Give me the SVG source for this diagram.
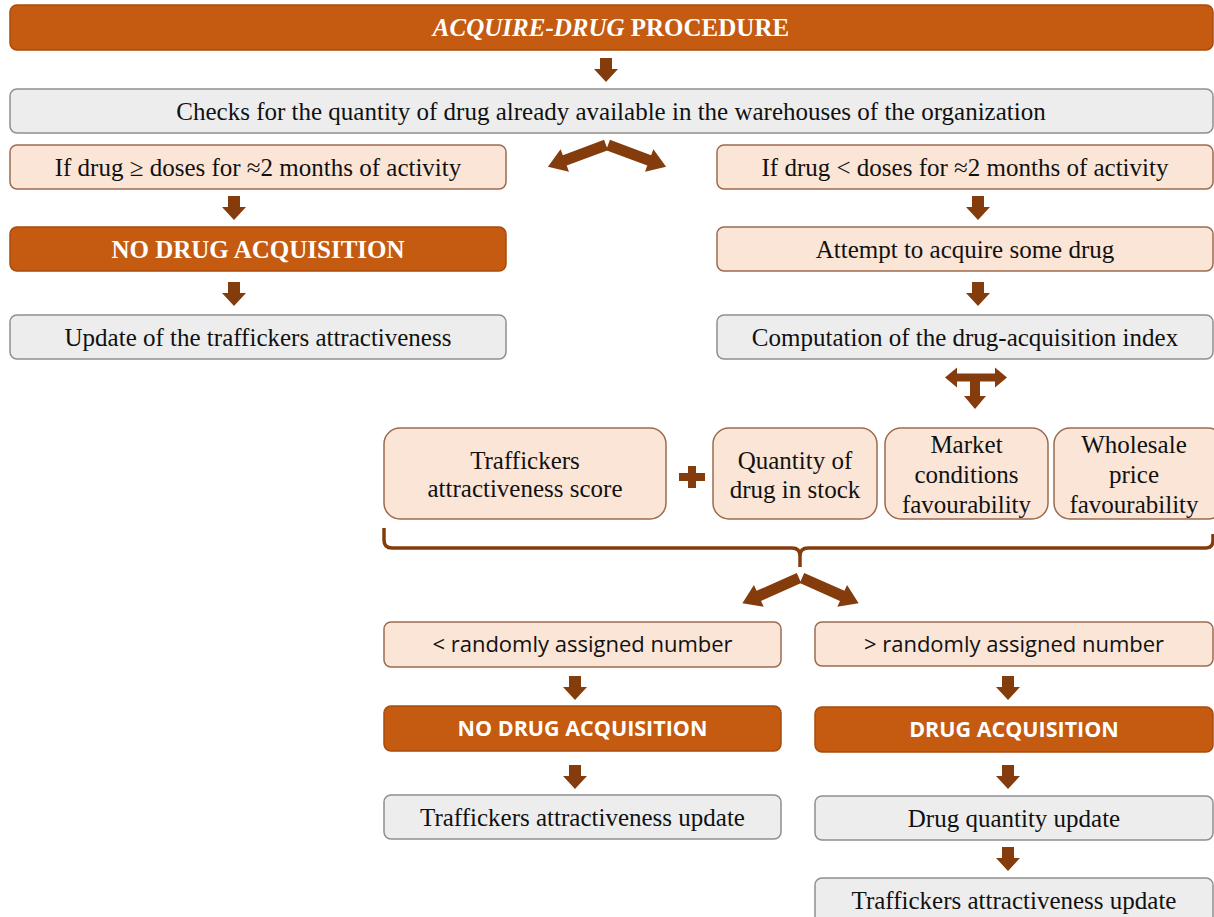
<svg xmlns="http://www.w3.org/2000/svg" xmlns:xlink="http://www.w3.org/1999/xlink" width="1214" height="917" viewBox="0 0 1214 917">
  <style>
    .dark { fill: #C55A11; stroke: #A84B0D; stroke-width: 1.5; }
    .peach { fill: #FBE5D6; stroke: #9C6B4E; stroke-width: 1.5; }
    .grey { fill: #EDEDED; stroke: #8F8F8F; stroke-width: 1.5; }
    .serif { font-family: "Liberation Serif", "Times New Roman", serif; font-size: 25px; fill: #111; text-anchor: middle; }
    .sans { font-family: "Open Sans", "Liberation Sans", sans-serif; font-size: 22px; fill: #111; text-anchor: middle; }
    .sans.white { font-size: 21.5px; }
    .white { fill: #FFFFFF; font-weight: bold; }
    .arr { fill: #843C0C; }
    .brace { fill: none; stroke: #843C0C; stroke-width: 3.5; stroke-linejoin: round; }
  </style>
  <defs>
    <!-- short block arrow pointing down, top centre at origin -->
    <path id="down" d="M-6,0 H6 V11 H12 L0,24 L-12,11 H-6 Z"/>
    <!-- block arrow pointing right along +x, tail at origin -->
    <path id="ray" d="M0,-5.5 H44 V-12 L62,0 L44,12 V5.5 H0 Z"/>
  </defs>

  <rect width="1214" height="917" fill="#FFFFFF"/>

  <!-- connectors -->
  <g id="connectors" class="arr">
    <use xlink:href="#down" x="606" y="58"/>
    <!-- split after stock check -->
    <use xlink:href="#ray" transform="translate(606,145) rotate(159.5)"/>
    <use xlink:href="#ray" transform="translate(608,145) rotate(20.5)"/>
    <!-- left branch -->
    <use xlink:href="#down" x="234" y="196"/>
    <use xlink:href="#down" x="234" y="282"/>
    <!-- right branch -->
    <use xlink:href="#down" x="978" y="196"/>
    <use xlink:href="#down" x="978" y="282"/>
    <!-- T arrow under the index -->
    <path d="M945,377.5 L957,367.5 V373.5 H995 V367.5 L1007,377.5 L995,387.5 V381.5 H980 V396 H986 L975,409 L964,396 H970 V381.5 H957 V387.5 Z"/>
    <!-- plus sign -->
    <path d="M688,466 H696 V473 H705 V481 H696 V488 H688 V481 H679 V473 H688 Z"/>
    <!-- brace gathering the four factors -->
    <path class="brace" d="M384,528 V540 Q384,548 392,548 H792 Q800,548 800,556 V567 M800,556 Q800,548 808,548 H1206 Q1213,548 1213,540 V534"/>
    <!-- split after comparison -->
    <use xlink:href="#ray" transform="translate(799,578) rotate(156)"/>
    <use xlink:href="#ray" transform="translate(802,578) rotate(24)"/>
    <!-- bottom left branch -->
    <use xlink:href="#down" x="575" y="676"/>
    <use xlink:href="#down" x="575" y="765"/>
    <!-- bottom right branch -->
    <use xlink:href="#down" x="1008" y="676"/>
    <use xlink:href="#down" x="1008" y="765"/>
    <use xlink:href="#down" x="1008" y="847"/>
  </g>

  <g id="procedure">
    <rect class="dark" x="10" y="5" width="1203" height="45" rx="7"/>
    <text class="serif white" x="611" y="36"><tspan font-style="italic">ACQUIRE-DRUG</tspan> PROCEDURE</text>
  </g>

  <g id="check">
    <rect class="grey" x="10" y="89" width="1203" height="44" rx="7"/>
    <text class="serif" x="611" y="119.5">Checks for the quantity of drug already available in the warehouses of the organization</text>
  </g>

  <g id="enough">
    <rect class="peach" x="10" y="145" width="496" height="44" rx="7"/>
    <text class="serif" x="258" y="175.5">If drug ≥ doses for ≈2 months of activity</text>
  </g>

  <g id="no-acq-1">
    <rect class="dark" x="10" y="227" width="496" height="44" rx="7"/>
    <text class="serif white" x="258" y="257.5">NO DRUG ACQUISITION</text>
  </g>

  <g id="update-1">
    <rect class="grey" x="10" y="315" width="496" height="44" rx="7"/>
    <text class="serif" x="258" y="345.5">Update of the traffickers attractiveness</text>
  </g>

  <g id="short">
    <rect class="peach" x="717" y="145" width="496" height="44" rx="7"/>
    <text class="serif" x="965" y="175.5">If drug &lt; doses for ≈2 months of activity</text>
  </g>

  <g id="attempt">
    <rect class="peach" x="717" y="227" width="496" height="44" rx="7"/>
    <text class="serif" x="965" y="257.5">Attempt to acquire some drug</text>
  </g>

  <g id="index">
    <rect class="grey" x="717" y="315" width="496" height="44" rx="7"/>
    <text class="serif" x="965" y="345.5">Computation of the drug-acquisition index</text>
  </g>

  <g id="score">
    <rect class="peach" x="384" y="428" width="282" height="91" rx="16"/>
    <text class="serif" x="525" y="469">Traffickers</text>
    <text class="serif" x="525" y="497">attractiveness score</text>
  </g>

  <g id="stock">
    <rect class="peach" x="713" y="428" width="164" height="91" rx="16"/>
    <text class="serif" x="795" y="469">Quantity of</text>
    <text class="serif" x="795" y="498">drug in stock</text>
  </g>

  <g id="market">
    <rect class="peach" x="885" y="428" width="163" height="91" rx="16"/>
    <text class="serif" x="966.5" y="453">Market</text>
    <text class="serif" x="966.5" y="483">conditions</text>
    <text class="serif" x="966.5" y="513">favourability</text>
  </g>

  <g id="wholesale">
    <rect class="peach" x="1054" y="428" width="170" height="91" rx="16"/>
    <text class="serif" x="1134" y="453">Wholesale</text>
    <text class="serif" x="1134" y="483">price</text>
    <text class="serif" x="1134" y="513">favourability</text>
  </g>

  <g id="lower">
    <rect class="peach" x="384" y="622" width="397" height="45" rx="7"/>
    <text class="sans" x="582.5" y="652">&lt; randomly assigned number</text>
  </g>

  <g id="no-acq-2">
    <rect class="dark" x="384" y="706" width="397" height="45" rx="7"/>
    <text class="sans white" x="582.5" y="736">NO DRUG ACQUISITION</text>
  </g>

  <g id="update-2">
    <rect class="grey" x="384" y="795" width="397" height="44" rx="7"/>
    <text class="serif" x="582.5" y="825.5">Traffickers attractiveness update</text>
  </g>

  <g id="higher">
    <rect class="peach" x="815" y="622" width="398" height="44" rx="7"/>
    <text class="sans" x="1014" y="652">&gt; randomly assigned number</text>
  </g>

  <g id="acq">
    <rect class="dark" x="815" y="707" width="398" height="45" rx="7"/>
    <text class="sans white" x="1014" y="737">DRUG ACQUISITION</text>
  </g>

  <g id="quantity-update">
    <rect class="grey" x="815" y="796" width="398" height="44" rx="7"/>
    <text class="serif" x="1014" y="826.5">Drug quantity update</text>
  </g>

  <g id="update-3">
    <rect class="grey" x="815" y="878" width="398" height="50" rx="7"/>
    <text class="serif" x="1014" y="908.5">Traffickers attractiveness update</text>
  </g>
</svg>
